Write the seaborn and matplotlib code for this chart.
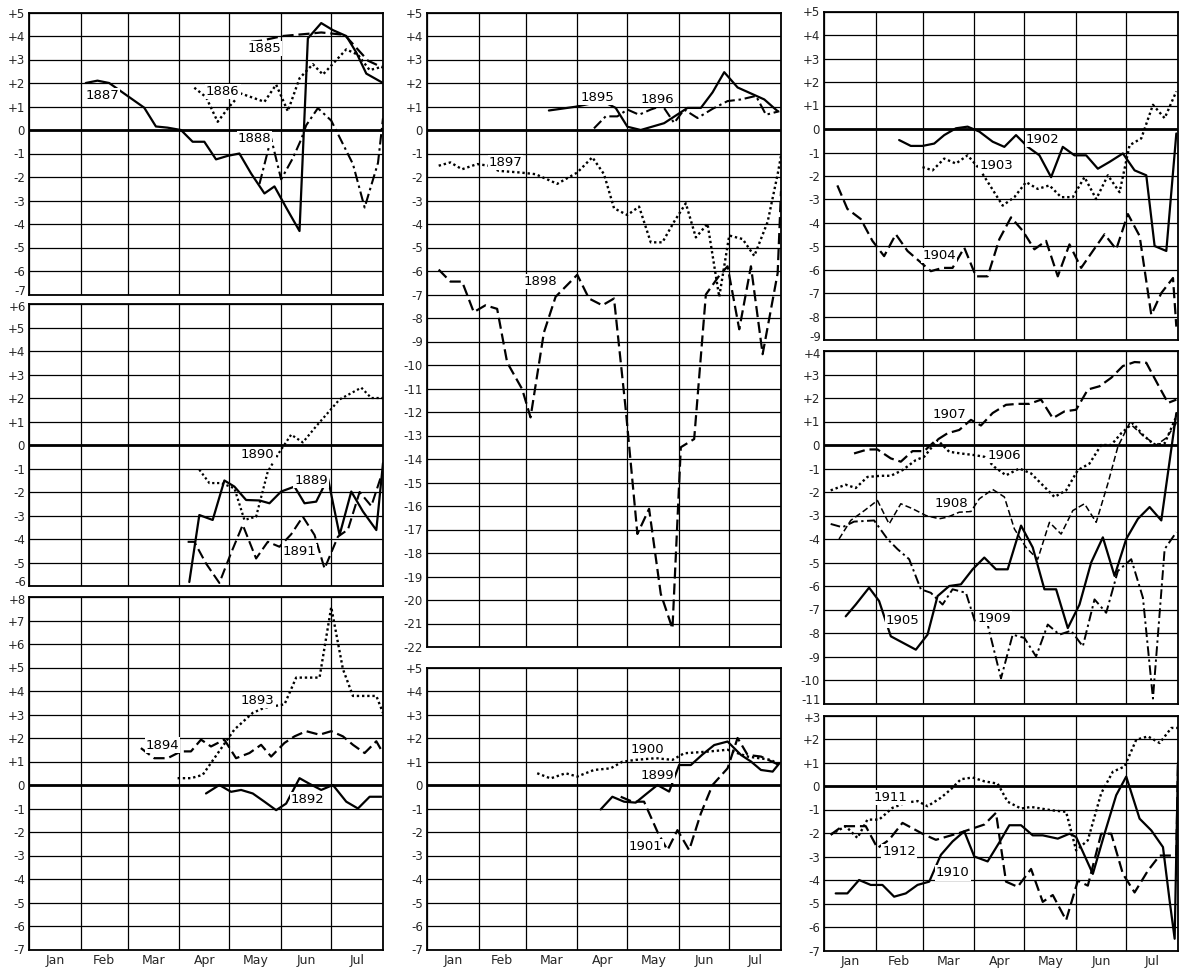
import numpy as np
import pandas as pd
import seaborn as sns
import matplotlib
matplotlib.use("Agg")
import matplotlib.pyplot as plt
from matplotlib.transforms import blended_transform_factory

sns.set_theme(style="white")
plt.rcParams["font.family"] = ["DejaVu Sans"]

# ---------------------------------------------------------------- data
# x values are day of year (0 = Jan 1), y values are departures
MONTHS = ["Jan", "Feb", "Mar", "Apr", "May", "Jun", "Jul"]
MONTH_STARTS = [0, 31, 59, 90, 120, 151, 181, 212]

D1885 = [133, 139, 152, 160, 168, 175, 182, 189, 196, 203, 212]
V1885 = [3.75, 3.8, 4.0, 4.05, 4.1, 4.15, 4.1, 4.05, 3.5, 2.95, 2.65]
D1886 = [99, 106, 113, 120, 127, 141, 148, 155, 162, 170, 176, 190, 197, 204, 212]
V1886 = [1.8, 1.4, 0.35, 1.0, 1.55, 1.2, 1.93, 0.8, 2.2, 2.8, 2.36, 3.43, 3.2, 2.55, 2.7]
D1887 = [34, 41, 48, 55, 62, 69, 76, 83, 91, 98, 105, 112, 119, 126, 133, 141, 147,
         154, 162, 167, 175, 182, 190, 196, 202, 212]
V1887 = [2.0, 2.1, 2.0, 1.65, 1.3, 0.95, 0.15, 0.1, 0.0, -0.5, -0.5, -1.25, -1.1, -1.0,
         -1.85, -2.7, -2.4, -3.3, -4.3, 3.9, 4.55, 4.25, 4.0, 3.3, 2.4, 2.0]
D1888 = [138, 145, 151, 158, 163, 166, 173, 181, 194, 201, 209, 212]
V1888 = [-2.3, -0.35, -2.1, -1.2, -0.4, 0.2, 0.93, 0.4, -1.45, -3.3, -1.4, 0.5]

D1889 = [96, 102, 110, 117, 123, 130, 138, 144, 151, 159, 165, 172, 179, 186, 193,
         200, 208, 212]
V1889 = [-5.83, -2.98, -3.19, -1.51, -1.77, -2.34, -2.36, -2.48, -1.98, -1.77, -2.48,
         -2.41, -1.41, -3.83, -1.98, -2.83, -3.62, -0.77]
D1890 = [102, 108, 115, 123, 129, 136, 143, 150, 157, 164, 172, 186, 199, 205, 212]
V1890 = [-1.05, -1.62, -1.62, -1.84, -3.19, -3.05, -1.13, -0.3, 0.44, 0.11, 0.8, 1.94,
         2.44, 2.0, 2.0]
D1891 = [95, 99, 106, 114, 121, 128, 136, 143, 150, 157, 164, 171, 177, 185, 191,
         198, 205, 211]
V1891 = [-4.12, -4.12, -5.04, -5.87, -4.6, -3.4, -4.83, -4.12, -4.33, -3.8, -3.05,
         -3.83, -5.26, -3.9, -3.6, -2.0, -2.6, -1.3]

D1892 = [106, 114, 121, 127, 134, 141, 148, 154, 162, 168, 175, 182, 190, 197, 204, 211]
V1892 = [-0.36, 0.0, -0.29, -0.21, -0.36, -0.71, -1.07, -0.79, 0.29, 0.05, -0.21, 0.0,
         -0.71, -1.0, -0.5, -0.5]
D1893 = [89, 97, 104, 123, 134, 141, 153, 160, 174, 181, 188, 194, 208, 212]
V1893 = [0.29, 0.29, 0.43, 2.36, 3.07, 3.29, 3.43, 4.57, 4.57, 7.57, 4.93, 3.79,
         3.79, 3.07]
D1894 = [67, 75, 83, 91, 97, 103, 109, 117, 124, 132, 139, 145, 153, 159, 166, 174,
         181, 188, 194, 201, 208, 212]
V1894 = [1.57, 1.14, 1.14, 1.43, 1.43, 1.93, 1.64, 1.93, 1.14, 1.36, 1.71, 1.21, 1.79,
         2.07, 2.29, 2.14, 2.29, 2.07, 1.71, 1.36, 1.86, 1.36]

D1895 = [73, 89, 105, 113, 120, 128, 142, 156, 164, 171, 178, 186, 202, 210]
V1895 = [0.83, 0.99, 1.23, 0.94, 0.14, 0.0, 0.29, 0.94, 0.94, 1.6, 2.46, 1.81, 1.3, 0.8]
D1896 = [100, 107, 114, 120, 127, 134, 141, 148, 154, 162, 171, 180, 188, 197, 203, 211]
V1896 = [0.07, 0.58, 0.58, 0.87, 0.65, 0.87, 1.04, 0.3, 0.87, 0.51, 0.9, 1.23, 1.3,
         1.45, 0.65, 0.8]
D1897 = [7, 14, 21, 30, 37, 43, 56, 65, 78, 90, 99, 106, 112, 120, 127, 134, 141, 148,
         155, 161, 168, 175, 181, 189, 196, 204, 210, 212]
V1897 = [-1.52, -1.38, -1.67, -1.45, -1.52, -1.74, -1.81, -1.88, -2.29, -1.81, -1.16,
         -1.88, -3.33, -3.62, -3.26, -4.78, -4.78, -3.9, -3.12, -4.57, -3.99, -7.1,
         -4.49, -4.64, -5.36, -3.91, -1.88, -1.1]
D1898 = [7, 14, 21, 28, 35, 42, 48, 57, 62, 70, 77, 90, 97, 105, 112, 119, 126, 133,
         140, 147, 152, 160, 167, 175, 180, 187, 194, 201, 210, 212]
V1898 = [-5.94, -6.45, -6.45, -7.75, -7.46, -7.61, -9.89, -11.03, -12.23, -8.62, -7.1,
         -6.16, -7.17, -7.46, -7.17, -11.88, -17.19, -16.12, -19.74, -21.22, -13.5,
         -13.15, -7.0, -6.2, -5.8, -8.48, -5.8, -9.54, -6.09, -2.6]

D1899 = [104, 111, 118, 125, 131, 138, 145, 151, 158, 165, 172, 180, 188, 194, 200, 207, 211]
V1899 = [-1.04, -0.5, -0.71, -0.75, -0.4, 0.0, -0.28, 0.85, 0.85, 1.3, 1.7, 1.85, 1.28,
         1.0, 0.64, 0.57, 0.92]
D1900 = [66, 74, 83, 90, 100, 110, 117, 125, 137, 147, 154, 168, 180, 192, 206, 211]
V1900 = [0.5, 0.28, 0.5, 0.36, 0.64, 0.71, 0.99, 1.07, 1.14, 1.07, 1.35, 1.42, 1.5,
         1.21, 1.07, 0.85]
D1901 = [116, 123, 130, 138, 144, 150, 157, 164, 171, 180, 186, 192, 200, 211]
V1901 = [-0.5, -0.71, -0.71, -1.99, -2.77, -1.92, -2.77, -1.21, 0.0, 0.71, 2.0, 1.28,
         1.21, 0.85]

D1902 = [45, 52, 59, 66, 72, 79, 86, 93, 101, 108, 115, 122, 129, 136, 143, 150, 157,
         164, 171, 179, 186, 193, 198, 205, 211]
V1902 = [-0.47, -0.72, -0.72, -0.62, -0.26, 0.03, 0.1, -0.11, -0.54, -0.76, -0.26,
         -0.76, -1.12, -2.05, -0.76, -1.12, -1.12, -1.69, -1.4, -1.04, -1.76, -1.97,
         -4.98, -5.19, -0.19]
D1903 = [59, 65, 72, 79, 86, 93, 100, 107, 114, 121, 128, 135, 142, 149, 156, 163,
         170, 177, 183, 190, 197, 204, 211]
V1903 = [-1.62, -1.76, -1.26, -1.47, -1.12, -1.69, -2.47, -3.26, -2.9, -2.26, -2.55,
         -2.4, -2.9, -2.9, -2.05, -2.98, -1.97, -2.69, -0.69, -0.4, 1.03, 0.46, 1.6]
D1904 = [8, 14, 22, 29, 36, 43, 50, 57, 64, 71, 77, 84, 91, 98, 105, 112, 119, 126,
         133, 140, 147, 154, 161, 168, 175, 182, 189, 196, 202, 209, 211]
V1904 = [-2.4, -3.4, -3.83, -4.76, -5.41, -4.48, -5.19, -5.62, -6.05, -5.91, -5.91,
         -5.05, -6.27, -6.27, -4.69, -3.76, -4.33, -5.12, -4.76, -6.27, -4.91, -5.91,
         -5.19, -4.48, -5.12, -3.62, -4.55, -7.91, -6.98, -6.34, -8.41]

D1905 = [13, 19, 27, 33, 40, 55, 62, 68, 75, 82, 89, 96, 103, 110, 118, 125, 132, 139,
         146, 153, 160, 167, 174, 181, 188, 195, 202, 211]
V1905 = [-7.29, -6.79, -6.07, -6.64, -8.14, -8.71, -8.07, -6.43, -6.0, -5.93, -5.29,
         -4.79, -5.29, -5.29, -3.43, -4.36, -6.14, -6.14, -7.79, -6.79, -5.0, -3.93,
         -5.57, -4.0, -3.14, -2.64, -3.21, 1.36]
D1906 = [4, 13, 19, 26, 34, 40, 47, 55, 60, 68, 75, 82, 90, 96, 102, 109, 117, 124,
         131, 138, 145, 152, 159, 166, 172, 178, 185, 191, 198, 204, 211]
V1906 = [-1.93, -1.69, -1.83, -1.36, -1.31, -1.31, -1.07, -0.64, -0.5, 0.21, -0.29,
         -0.36, -0.43, -0.5, -0.93, -1.29, -1.0, -1.21, -1.71, -2.21, -1.93, -1.07,
         -0.79, 0.0, 0.0, 0.5, 0.93, 0.43, 0.0, 0.07, 1.21]
D1907 = [18, 26, 32, 40, 46, 53, 60, 66, 74, 81, 88, 94, 101, 109, 116, 123, 130, 137,
         144, 151, 158, 165, 172, 179, 186, 193, 200, 206, 211]
V1907 = [-0.36, -0.19, -0.19, -0.57, -0.71, -0.26, -0.26, 0.14, 0.5, 0.64, 1.07, 0.83,
         1.36, 1.71, 1.75, 1.75, 1.93, 1.14, 1.43, 1.5, 2.36, 2.5, 2.86, 3.36, 3.53,
         3.5, 2.57, 1.79, 1.93]
D1908 = [9, 16, 24, 32, 39, 46, 53, 61, 69, 74, 81, 88, 93, 101, 108, 114, 121, 128,
         135, 142, 149, 156, 163, 170, 176, 183, 191, 199, 205, 211]
V1908 = [-4.0, -3.21, -2.8, -2.36, -3.36, -2.5, -2.71, -3.0, -3.14, -3.07, -2.86,
         -2.83, -2.29, -1.89, -2.21, -3.57, -4.36, -4.86, -3.29, -3.79, -2.79, -2.5,
         -3.29, -1.64, -0.07, 0.93, 0.4, 0.0, 0.3, 0.93]
D1909 = [4, 11, 18, 30, 38, 44, 51, 58, 64, 71, 77, 85, 91, 98, 106, 113, 120, 127,
         134, 141, 148, 155, 162, 169, 176, 184, 191, 197, 204, 211]
V1909 = [-3.36, -3.5, -3.26, -3.21, -4.0, -4.43, -4.86, -6.14, -6.29, -6.79, -6.14,
         -6.29, -7.64, -7.64, -9.93, -8.07, -8.21, -9.0, -7.64, -8.07, -7.9, -8.57,
         -6.57, -7.14, -5.36, -4.86, -6.5, -10.79, -4.43, -3.71]

D1910 = [7, 14, 21, 28, 35, 42, 49, 56, 63, 70, 77, 84, 90, 98, 105, 111, 118, 125,
         131, 140, 147, 151, 161, 168, 175, 181, 189, 196, 203, 207, 210, 212]
V1910 = [-4.57, -4.57, -4.0, -4.21, -4.21, -4.71, -4.57, -4.21, -4.07, -2.93, -2.36,
         -1.93, -3.0, -3.21, -2.4, -1.67, -1.67, -2.1, -2.1, -2.24, -2.03, -2.17, -3.74,
         -2.03, -0.39, 0.4, -1.39, -1.89, -2.6, -4.89, -6.5, 1.0]
D1911 = [4, 13, 20, 26, 33, 41, 49, 56, 62, 70, 76, 82, 89, 96, 104, 110, 118, 124,
         136, 145, 151, 158, 166, 173, 180, 187, 194, 201, 208, 212]
V1911 = [-2.07, -1.71, -2.21, -1.43, -1.43, -0.93, -0.71, -0.64, -0.86, -0.5, -0.14,
         0.29, 0.36, 0.2, 0.1, -0.67, -0.96, -0.89, -1.03, -1.1, -2.74, -2.31, -0.31,
         0.61, 0.83, 1.97, 2.11, 1.83, 2.47, 2.47]
D1912 = [4, 11, 25, 32, 39, 47, 60, 67, 81, 96, 103, 109, 116, 124, 131, 137, 145, 152,
         158, 166, 172, 179, 186, 194, 201, 208, 211, 212]
V1912 = [-2.07, -1.71, -1.71, -2.64, -2.29, -1.57, -2.07, -2.29, -2.0, -1.64, -1.14,
         -4.07, -4.29, -3.53, -4.93, -4.64, -5.71, -4.03, -4.24, -2.03, -2.03, -3.74,
         -4.53, -3.6, -2.96, -2.96, -2.96, 1.0]

# ---------------------------------------------------------------- styles
SOLID = "-"
DASHED = (0, (5.0, 2.2))
DOTTED = (0, (1.0, 1.2))
DASHDOT = (0, (5.0, 1.8, 1.2, 1.8))
THIN_DASH = (0, (4.0, 2.0))

# each series: (days, values, linestyle, linewidth, label text, label day, label value)
PANELS = [
    # column, top pixel, ymax, ymin, has month labels, has a panel above, has a panel below
    (0, 12.5, 5, -7, False, False, True, [
        (D1885, V1885, DASHED, 1.6, "1885", 141, 3.45),
        (D1886, V1886, DOTTED, 1.7, "1886", 116, 1.65),
        (D1887, V1887, SOLID, 1.6, "1887", 44, 1.45),
        (D1888, V1888, DASHDOT, 1.5, "1888", 135, -0.35),
    ]),
    (0, 304.0, 6, -6, False, True, True, [
        (D1889, V1889, SOLID, 1.6, "1889", 169, -1.5),
        (D1890, V1890, DOTTED, 1.6, "1890", 137, -0.4),
        (D1891, V1891, DASHED, 1.5, "1891", 162, -4.55),
    ]),
    (0, 597.0, 8, -7, True, True, False, [
        (D1892, V1892, SOLID, 1.6, "1892", 167, -0.6),
        (D1893, V1893, DOTTED, 1.7, "1893", 137, 3.6),
        (D1894, V1894, DASHED, 1.6, "1894", 80, 1.7),
    ]),
    (1, 12.5, 5, -22, False, False, False, [
        (D1895, V1895, SOLID, 1.6, "1895", 102, 1.4),
        (D1896, V1896, DASHDOT, 1.5, "1896", 138, 1.3),
        (D1897, V1897, DOTTED, 1.7, "1897", 47, -1.4),
        (D1898, V1898, DASHED, 1.6, "1898", 68, -6.45),
    ]),
    (1, 667.5, 5, -7, True, False, False, [
        (D1899, V1899, SOLID, 1.6, "1899", 138, 0.4),
        (D1900, V1900, DOTTED, 1.7, "1900", 132, 1.5),
        (D1901, V1901, DASHED, 1.6, "1901", 131, -2.6),
    ]),
    (2, 11.5, 5, -9, False, False, True, [
        (D1902, V1902, SOLID, 1.6, "1902", 131, -0.45),
        (D1903, V1903, DOTTED, 1.7, "1903", 103, -1.55),
        (D1904, V1904, DASHED, 1.6, "1904", 69, -5.4),
    ]),
    (2, 351.0, 4, -11, False, True, True, [
        (D1905, V1905, SOLID, 1.6, "1905", 47, -7.45),
        (D1906, V1906, DOTTED, 1.7, "1906", 108, -0.45),
        (D1907, V1907, DASHED, 1.6, "1907", 75, 1.3),
        (D1908, V1908, THIN_DASH, 1.1, "1908", 76, -2.5),
        (D1909, V1909, DASHDOT, 1.4, "1909", 102, -7.4),
    ]),
    (2, 715.5, 3, -7, True, True, False, [
        (D1910, V1910, SOLID, 1.6, "1910", 77, -3.7),
        (D1911, V1911, DOTTED, 1.7, "1911", 40, -0.5),
        (D1912, V1912, DASHED, 1.6, "1912", 45, -2.8),
    ]),
]

# ---------------------------------------------------------------- layout
W, H = 1188, 968
UNIT = 23.5                      # pixels per unit on every panel
COL_LEFT = [29, 427, 824]
COL_WIDTH = 354
TICK_SIZE = 8.5

fig = plt.figure(figsize=(W / 100, H / 100), dpi=100)
fig.patch.set_facecolor("white")


def fmt(v):
    return f"+{v}" if v > 0 else f"{v}"


for col, top_px, ymax, ymin, bottom_row, above, below, series in PANELS:
    height_px = (ymax - ymin) * UNIT
    ax = fig.add_axes([COL_LEFT[col] / W, 1 - (top_px + height_px) / H,
                       COL_WIDTH / W, height_px / H])
    ax.set_facecolor("white")

    for days, vals, ls, lw, name, lx, ly in series:
        sns.lineplot(x=days, y=vals, ax=ax, color="black", linewidth=lw,
                     linestyle=ls, estimator=None, sort=False, legend=False)
        ax.text(lx, ly, name, fontsize=9.5, ha="center", va="center",
                color="black", zorder=6,
                bbox=dict(boxstyle="square,pad=0.08", fc="white", ec="none"))

    ax.axhline(0, color="black", linewidth=2.0, zorder=1)

    ax.set_xlim(0, 212)
    ax.set_ylim(ymin, ymax)
    ax.set_xticks(MONTH_STARTS)
    ax.set_xticklabels([])
    centres = [(a + b) / 2 for a, b in zip(MONTH_STARTS[:-1], MONTH_STARTS[1:])]
    ax.set_xticks(centres, minor=True)
    if bottom_row:
        ax.set_xticklabels(MONTHS, minor=True, fontsize=9)
    else:
        ax.set_xticklabels([], minor=True)

    # y labels; the end labels of stacked panels are nudged off the panel joins
    yt = list(range(ymin, ymax + 1))
    ax.set_yticks(yt)
    texts = [fmt(v) for v in yt]
    trans = blended_transform_factory(ax.transAxes, ax.transData)
    if below:
        texts[0] = ""
        ax.annotate(fmt(yt[0]), xy=(0, yt[0]), xycoords=trans,
                    xytext=(-2.2, 2.5), textcoords="offset points",
                    ha="right", va="center", fontsize=TICK_SIZE)
    if above:
        texts[-1] = ""
        ax.annotate(fmt(yt[-1]), xy=(0, yt[-1]), xycoords=trans,
                    xytext=(-2.2, -2.5), textcoords="offset points",
                    ha="right", va="center", fontsize=TICK_SIZE)
    ax.set_yticklabels(texts, fontsize=TICK_SIZE)

    ax.tick_params(axis="both", which="both", length=0, pad=3)
    ax.grid(True, which="major", color="black", linewidth=0.9)
    ax.set_axisbelow(True)
    for sp in ax.spines.values():
        sp.set_color("black")
        sp.set_linewidth(1.3)
    ax.set_xlabel("")
    ax.set_ylabel("")

fig.savefig("out.png", dpi=100, facecolor="white")
